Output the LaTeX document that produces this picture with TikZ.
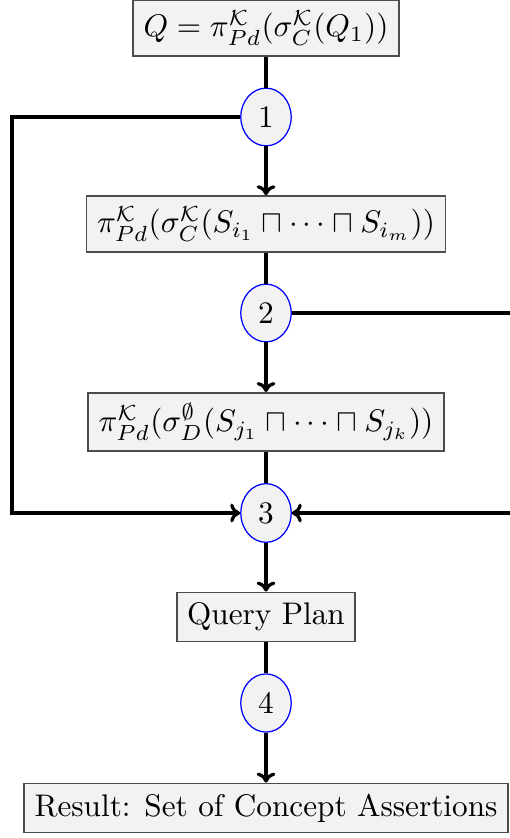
\documentclass[tikz,border=0pt]{standalone}
\usepackage{amsmath,amssymb}
\usetikzlibrary{shapes.geometric,arrows.meta}
\begin{document}
\begin{tikzpicture}[x=0.32pt,y=-0.32pt,
  box/.style={draw=black!70,fill=gray!10,line width=0.5pt},
  stepnum/.style={ellipse,draw=blue,fill=gray!10,line width=0.4pt,inner sep=3.2pt},
  flow/.style={line width=1.05pt},
  flowarrow/.style={flow,-{To[length=3.2pt,width=6pt]}}]
\useasboundingbox (0,0) rectangle (510,838);
% main column
\node[box] (q) at (266,28) {$Q=\pi^{\mathcal{K}}_{Pd}(\sigma^{\mathcal{K}}_{C}(Q_1))$};
\node[stepnum] (s1) at (266,117) {1};
\node[box] (a) at (266,224) {$\pi^{\mathcal{K}}_{Pd}(\sigma^{\mathcal{K}}_{C}(S_{i_1}\sqcap\cdots\sqcap S_{i_m}))$};
\node[stepnum] (s2) at (266,313) {2};
\node[box] (b) at (266,422) {$\pi^{\mathcal{K}}_{Pd}(\sigma^{\emptyset}_{D}(S_{j_1}\sqcap\cdots\sqcap S_{j_k}))$};
\node[stepnum] (s3) at (266,513) {3};
\node[box] (p) at (266,617) {Query Plan};
\node[stepnum] (s4) at (266,703) {4};
\node[box] (r) at (266,808) {Result: Set of Concept Assertions};
% bypass corners
\coordinate (lt) at (12,117);
\coordinate (lb) at (12,513);
\coordinate (rt) at (512,313);
\coordinate (rb) at (512,513);
% connectors
\draw[flow] (q) -- (s1);
\draw[flowarrow] (s1) -- (a);
\draw[flow] (a) -- (s2);
\draw[flowarrow] (s2) -- (b);
\draw[flow] (b) -- (s3);
\draw[flowarrow] (s3) -- (p);
\draw[flow] (p) -- (s4);
\draw[flowarrow] (s4) -- (r);
\draw[flowarrow] (s1.west) -- (lt) -- (lb) -- (s3.west);
\draw[flowarrow] (s2.east) -- (rt) -- (rb) -- (s3.east);
\end{tikzpicture}
\end{document}
